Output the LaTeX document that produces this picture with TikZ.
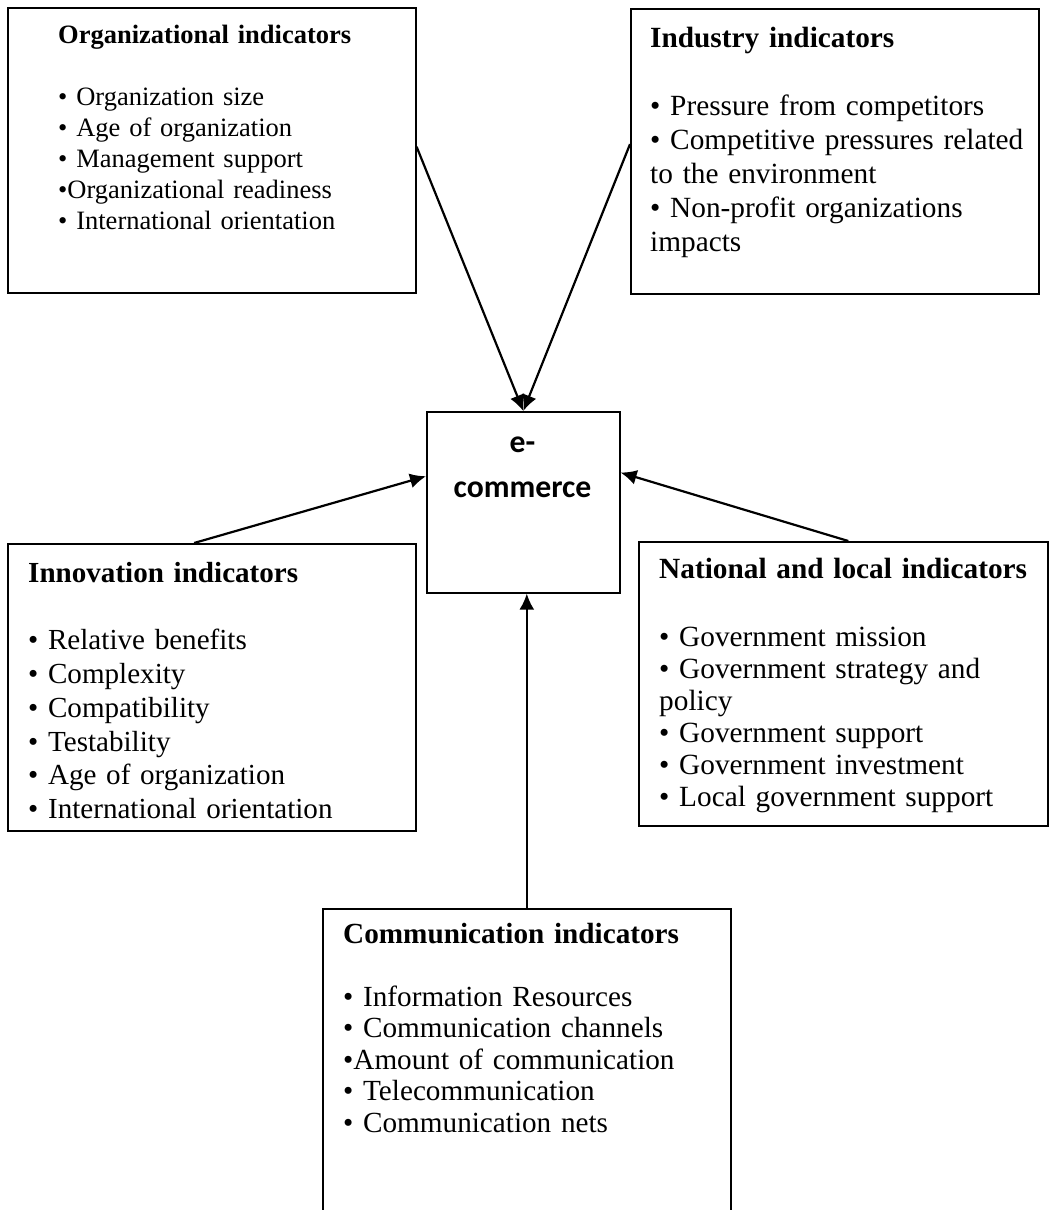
\documentclass[tikz,border=0pt]{standalone}
\usepackage{fontspec}
\setmainfont{Liberation Serif}
\newfontfamily\ecomfont{Carlito}
\usetikzlibrary{arrows.meta}
\tikzset{
  x=1pt, y=-1pt,
  indicator box/.style={draw,line width=1.6pt,anchor=north west,inner sep=0pt},
  indicator text/.style={anchor=base west,align=left,inner sep=0pt,text width=390pt},
  feeds/.style={draw,line width=2.2pt,-{Latex[length=16pt,width=15pt]}},
}

\begin{document}
\begin{tikzpicture}
\useasboundingbox (0,0) rectangle (1050,1210);
\clip (0,0) rectangle (1050,1210);
% boxes
\node[indicator box,minimum width=408pt,minimum height=285pt] (org) at (7,7) {};
\node[indicator box,minimum width=408pt,minimum height=285pt] (ind) at (630,8) {};
\node[indicator box,minimum width=193pt,minimum height=181pt] (ecom) at (426,411) {};
\node[indicator box,minimum width=408pt,minimum height=287pt] (innov) at (7,543) {};
\node[indicator box,minimum width=409pt,minimum height=284pt] (natl) at (638,541) {};
\node[indicator box,minimum width=408pt,minimum height=400pt] (comm) at (322,908) {};
% texts
\node[indicator text,font=\fontsize{26.5}{31}\selectfont] (org text) at (58,43)
  {\textbf{Organizational indicators}\\[\baselineskip]
   • Organization size\\
   • Age of organization\\
   • Management support\\
   •Organizational readiness\\
   • International orientation};
\node[indicator text,font=\fontsize{29.3}{34}\selectfont] (ind text) at (650,47)
  {\textbf{Industry indicators}\\[\baselineskip]
   • Pressure from competitors\\
   • Competitive pressures related\\
   to the environment\\
   • Non-profit organizations\\
   impacts};
\node[anchor=base,align=center,text width=190pt,inner sep=0pt,
  font=\ecomfont\bfseries\fontsize{31.7}{45}\selectfont] (ecom text) at (522.5,452)
  {e-\\commerce};
\node[indicator text,font=\fontsize{29.1}{33.8}\selectfont] (innov text) at (28,582)
  {\textbf{Innovation indicators}\\[\baselineskip]
   • Relative benefits\\
   • Complexity\\
   • Compatibility\\
   • Testability\\
   • Age of organization\\
   • International orientation};
\node[indicator text,font=\fontsize{29.3}{32}\selectfont] (natl text) at (659,578)
  {\textbf{National and local indicators}\\[36pt]
   • Government mission\\
   • Government strategy and\\
   policy\\
   • Government support\\
   • Government investment\\
   • Local government support};
\node[indicator text,font=\fontsize{29.2}{31.5}\selectfont] (comm text) at (343,943)
  {\textbf{Communication indicators}\\[\baselineskip]
   • Information Resources\\
   • Communication channels\\
   •Amount of communication\\
   • Telecommunication\\
   • Communication nets};
% arrows
\foreach \src/\dst in {org.1/ecom.north, ind.178/ecom.north, innov.97/ecom.165, natl.88/ecom.17}
  \draw[feeds] (\src) -- (\dst);
\draw[feeds] (comm.north) -- (comm.north |- ecom.south);
\end{tikzpicture}
\end{document}
